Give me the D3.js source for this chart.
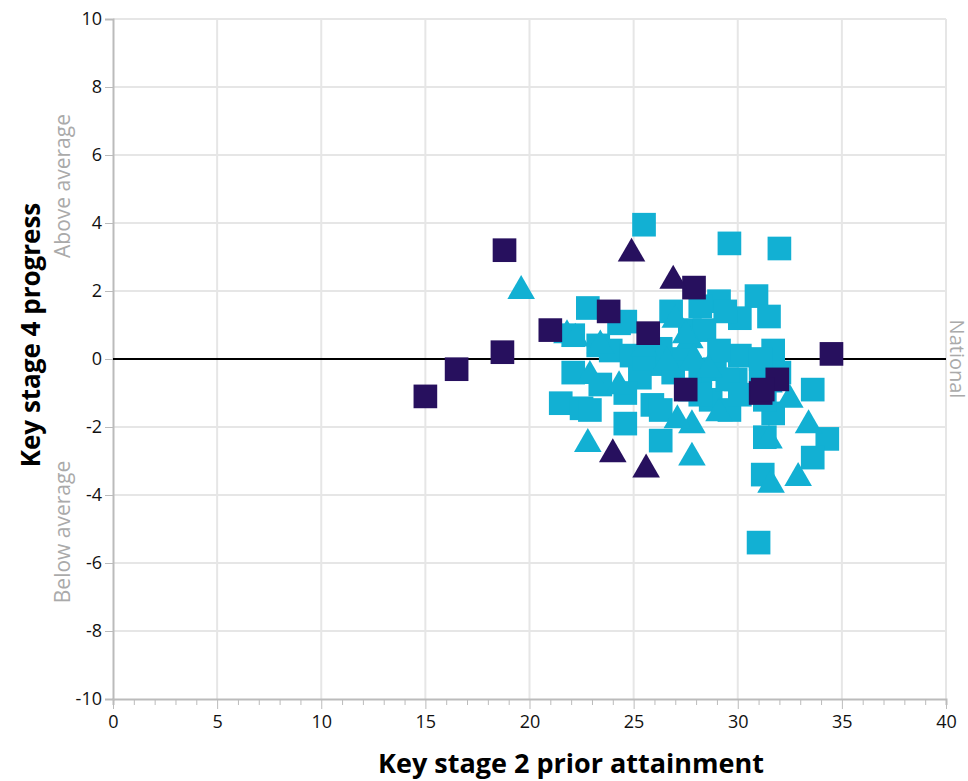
<!DOCTYPE html>
<html><head><meta charset="utf-8">
<script src="https://cdn.jsdelivr.net/npm/d3@7"></script>
<style>body{margin:0;background:#fff;font-family:"Open Sans",sans-serif}</style>
</head><body><svg id="c" width="968" height="781"></svg>
<script>
// [x, y] points
let darkSquares = [[15.0,-1.1],[16.5,-0.3],[18.7,0.2],[18.8,3.2],[21.0,0.85],[23.8,1.4],[25.7,0.76],[27.9,2.1],[34.5,0.15],[31.1,-1.0],[27.5,-0.9],[31.9,-0.6],[31.2,-0.9]];
let darkTriangles = [[24.9,3.1],[26.9,2.3],[24.0,-2.8],[25.6,-3.25]];
let lightTriangles = [[19.6,2.0],[21.8,0.7],[22.2,0.6],[22.8,-2.5],[27.8,-2.9],[31.6,-3.7],[32.9,-3.5],[33.4,-1.95],[27.8,-1.95],[27.1,-1.8],[22.9,-0.5],[24.3,-0.8],[27.0,1.15],[27.7,0.55],[27.9,0],[28.6,-0.3],[32.5,-1.2],[31.5,-0.75],[23.4,0.4],[25.5,0.3],[27.5,0.7],[31.5,-2.4],[29.1,-1.6],[26.6,-0.1]];
let lightSquares = [[25.5,3.95],[29.6,3.4],[32.0,3.25],[22.8,1.5],[30.9,1.85],[31.5,1.25],[29.1,1.7],[30.1,1.2],[29.4,1.4],[28.2,1.55],[26.8,1.4],[24.6,1.1],[24.3,1.05],[22.1,0.7],[23.3,0.4],[23.9,0.25],[24.9,0.1],[26.0,-0.15],[25.3,-0.55],[22.1,-0.4],[23.4,-0.75],[24.6,-1.0],[25.9,-1.35],[26.3,-1.5],[21.5,-1.3],[22.5,-1.45],[22.9,-1.5],[24.6,-1.9],[26.3,-2.4],[28.7,-1.2],[29.6,-1.5],[29.9,-0.6],[30.1,0.1],[31.1,-0.4],[31.7,0.25],[32.0,-0.4],[31.7,-1.6],[31.3,-2.3],[31.2,-3.4],[31.0,-5.4],[33.6,-0.9],[34.3,-2.35],[33.6,-2.9],[31.3,-1.2],[27.2,0],[28.2,-0.4],[28.9,-0.3],[29.5,-0.6],[27.7,0.85],[28.4,0.85],[26.3,0.3],[26.9,-0.4],[25.5,0],[29.1,0.25],[27.7,-0.9],[31.1,0],[28.2,-1.05],[30.1,-1.05]];
let xTicks = [0,5,10,15,20,25,30,35,40];
let yTicks = [-10,-8,-6,-4,-2,0,2,4,6,8,10];

let svg = d3.select('#c');
let m = {l:113, t:19, r:22, b:82};
let W = 968 - m.l - m.r, H = 781 - m.t - m.b;
let x = d3.scaleLinear().domain([0,40]).range([m.l, m.l+W]);
let y = d3.scaleLinear().domain([-10,10]).range([m.t+H, m.t]);

// grid
svg.append('g').selectAll('line').data(xTicks.slice(1)).enter().append('line')
  .attr('x1', d=>x(d)).attr('x2', d=>x(d)).attr('y1', m.t).attr('y2', m.t+H)
  .attr('stroke', '#e6e6e6').attr('stroke-width', 2);
svg.append('g').selectAll('line').data(yTicks.slice(1)).enter().append('line')
  .attr('x1', m.l).attr('x2', m.l+W).attr('y1', d=>y(d)).attr('y2', d=>y(d))
  .attr('stroke', '#e6e6e6').attr('stroke-width', 2);

// axes
let xa = svg.append('g').attr('transform', `translate(0,${m.t+H})`)
  .call(d3.axisBottom(x).tickValues(d3.range(0,41,1)).tickSize(6).tickFormat(d => d%5===0 ? d : ''));
xa.selectAll('.tick line').attr('stroke','#bbb').attr('y2', d => d%5===0 ? 10 : 6);
let ya = svg.append('g').attr('transform', `translate(${m.l},0)`)
  .call(d3.axisLeft(y).tickValues(yTicks).tickSize(8).tickFormat(d => String(d)));
ya.selectAll('.tick line').attr('stroke','#bbb');
[xa, ya].forEach(a => {
  a.select('.domain').attr('stroke','#bbb').attr('stroke-width',2);
  a.selectAll('text').attr('font-size',18).attr('fill','#111').attr('font-family','"Open Sans",sans-serif');
});
xa.selectAll('text').attr('dy','1.1em');

// national line
svg.append('line').attr('x1', m.l).attr('x2', m.l+W).attr('y1', y(0)).attr('y2', y(0))
  .attr('stroke','#000').attr('stroke-width',2);

let sq = d3.symbol().type(d3.symbolSquare).size(560);
let tri = d3.symbol().type(d3.symbolTriangle).size(330);
function draw(data, sym, col) {
  svg.append('g').selectAll('path').data(data).enter().append('path')
    .attr('d', sym).attr('fill', col)
    .attr('transform', d => `translate(${x(d[0])},${y(d[1])})`);
}
draw(lightSquares, sq, '#12b0d3');
draw(lightTriangles, tri, '#12b0d3');
draw(darkSquares, sq, '#27105e');
draw(darkTriangles, tri, '#27105e');

// labels
svg.append('text').attr('x', 571).attr('y', 773).attr('text-anchor','middle')
  .attr('font-size',27).attr('font-weight','bold').text('Key stage 2 prior attainment');
svg.append('text').attr('transform', `translate(40,335) rotate(-90)`).attr('text-anchor','middle')
  .attr('font-size',26).attr('font-weight','bold').text('Key stage 4 progress');
svg.append('text').attr('transform', `translate(70,186) rotate(-90)`).attr('text-anchor','middle')
  .attr('font-size',21).attr('fill','#aaa').text('Above average');
svg.append('text').attr('transform', `translate(70,532) rotate(-90)`).attr('text-anchor','middle')
  .attr('font-size',21).attr('fill','#aaa').text('Below average');
svg.append('text').attr('transform', `translate(950,${y(0)}) rotate(90)`).attr('text-anchor','middle')
  .attr('font-size',20).attr('fill','#aaa').text('National');
</script></body></html>
